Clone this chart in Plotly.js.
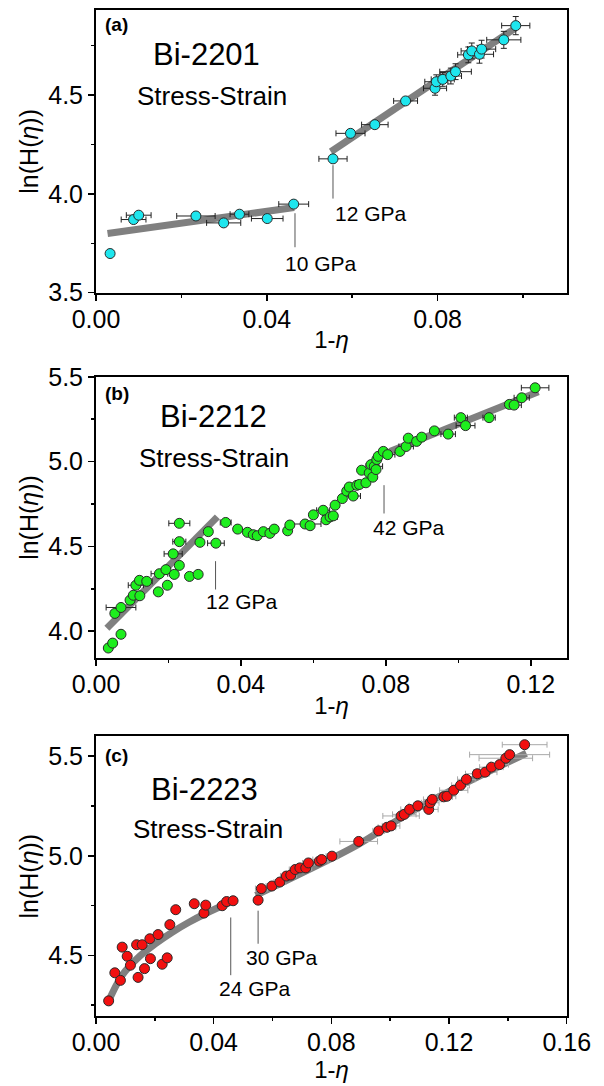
<!DOCTYPE html>
<html>
<head>
<meta charset="utf-8">
<script src="https://cdn.plot.ly/plotly-3.0.1.min.js"></script>
<style>html,body{margin:0;padding:0;background:#fff;}#chart{width:604px;height:1086px;}</style>
</head>
<body>
<div id="chart"></div>
<script>
// ---------- Panel (a) Bi-2201 ----------
const aX = [0.0033,0.0088,0.0100,0.0234,0.0299,0.0336,0.0401,0.0463,0.0555,0.0596,0.0653,0.0725,0.0794,0.0797,0.0812,0.0831,0.0842,0.0872,0.0880,0.0898,0.0903,0.0955,0.0983];
const aY = [3.698,3.870,3.892,3.888,3.853,3.897,3.875,3.948,4.177,4.306,4.350,4.470,4.534,4.567,4.579,4.596,4.618,4.703,4.723,4.706,4.732,4.779,4.851];
const aErrX = [0,0.0029,0.0029,0.0045,0.0040,0.0022,0.0037,0.0035,0.0033,0.0034,0.0031,0.0028,0.0027,0.0027,0.0027,0.0025,0.0037,0.0025,0.0025,0.0033,0.0033,0.0040,0.0033];
const aErrY = [0,0,0,0,0,0,0,0,0,0,0,0,0.035,0.035,0.035,0.04,0.04,0.04,0.04,0.045,0.045,0.043,0.046];
const aFit1X = [0.0027,0.0464], aFit1Y = [3.799,3.931];
const aFit2X = [0.0550,0.0982], aFit2Y = [4.213,4.838];

// ---------- Panel (b) Bi-2212 ----------
const bX = [0.0034,0.0046,0.0069,0.0052,0.0069,0.0094,0.0103,0.0121,0.0110,0.0120,0.0140,0.0172,0.0175,0.0197,0.0193,0.0216,0.0230,0.0213,0.0230,0.0230,0.0258,0.0282,0.0287,0.0310,0.0331,0.0358,0.0391,0.0418,0.0434,0.0445,0.0462,0.0480,0.0492,0.0529,0.0535,0.0577,0.0591,0.0600,0.0627,0.0635,0.0646,0.0655,0.0660,0.0680,0.0692,0.0699,0.0710,0.0720,0.0727,0.0733,0.0745,0.0754,0.0759,0.0764,0.0768,0.0773,0.0775,0.0779,0.0793,0.0805,0.0839,0.0856,0.0862,0.0885,0.0899,0.0934,0.0972,0.1007,0.1020,0.1085,0.1141,0.1154,0.1175,0.1212];
const bY = [3.901,3.930,3.982,4.105,4.140,4.183,4.212,4.209,4.271,4.300,4.294,4.232,4.339,4.271,4.363,4.335,4.388,4.456,4.528,4.636,4.323,4.335,4.524,4.587,4.519,4.641,4.602,4.583,4.569,4.563,4.587,4.577,4.602,4.592,4.626,4.632,4.622,4.686,4.713,4.657,4.674,4.680,4.743,4.782,4.826,4.850,4.797,4.860,4.865,4.949,4.875,4.933,4.982,4.908,4.972,4.953,5.012,5.031,5.060,5.041,5.060,5.089,5.138,5.119,5.144,5.181,5.162,5.259,5.212,5.259,5.337,5.333,5.376,5.435];
const bErrX = [0,0,0,0,0.0041,0,0,0,0.0021,0,0.0015,0,0.0023,0,0,0,0,0.0025,0.0018,0.0029,0,0,0,0,0.0023,0.0015,0,0,0,0,0,0,0,0,0,0.0044,0,0,0.0018,0,0.0020,0,0,0,0,0,0.0020,0,0,0,0,0,0,0,0.0023,0,0,0,0,0.0020,0,0.0020,0,0,0,0,0.0020,0.0018,0.0026,0.0017,0,0.0020,0.0021,0.0038];
const bFit1X = [0.0030,0.0335], bFit1Y = [4.018,4.674];
const bFit2X = [0.0811,0.1221], bFit2Y = [5.060,5.411];

// ---------- Panel (c) Bi-2223 ----------
const cX = [0.0043,0.0064,0.0083,0.0089,0.0106,0.0117,0.0138,0.0143,0.0157,0.0165,0.0183,0.0185,0.0211,0.0225,0.0242,0.0251,0.0271,0.0334,0.0367,0.0373,0.0429,0.0444,0.0466,
            0.0551,0.0562,0.0598,0.0625,0.0647,0.0662,0.0677,0.0693,0.0713,0.0722,0.0759,0.0767,0.0802,0.0893,0.0961,0.0989,0.1003,0.1037,0.1048,0.1066,0.1094,0.1131,0.1136,0.1143,0.1182,0.1193,0.1216,0.1239,0.1259,0.1296,0.1323,0.1344,0.1372,0.1393,0.1406,0.1457];
const cY = [4.271,4.412,4.374,4.541,4.495,4.450,4.553,4.389,4.553,4.433,4.583,4.483,4.604,4.455,4.487,4.654,4.729,4.759,4.712,4.752,4.749,4.770,4.774,
            4.777,4.835,4.848,4.868,4.898,4.903,4.931,4.939,4.939,4.964,4.973,4.981,4.998,5.072,5.125,5.143,5.150,5.200,5.208,5.233,5.251,5.233,5.266,5.283,5.296,5.299,5.329,5.354,5.384,5.412,5.420,5.445,5.458,5.490,5.508,5.558];
const cErrX = [0,0,0,0,0,0,0,0,0,0,0,0,0,0,0,0,0,0,0,0,0,0,0,
               0,0.002,0.002,0.002,0.002,0.002,0.002,0.002,0.002,0.002,0.003,0.003,0.002,0.0064,0.002,0.003,0.003,0.0062,0.004,0.003,0.003,0.0032,0.003,0.003,0.003,0.003,0.0048,0.003,0.003,0.004,0.004,0.004,0.003,0.0091,0.0136,0.0076];
const cFit1X = [0.0037,0.0089,0.0146,0.0202,0.0259,0.0316,0.0373,0.0429,0.0475];
const cFit1Y = [4.251,4.400,4.492,4.558,4.616,4.666,4.710,4.749,4.779];
const cFit2X = [0.0543,0.0804,0.0893,0.1094,0.1463];
const cFit2Y = [4.801,4.989,5.058,5.240,5.515];

// ---------- tick / label text ----------
const yTitle = 'ln(H(<i>η</i>))';
const xTitle = '1-<i>η</i>';
const panelTags = ['<b>(a)</b>','<b>(b)</b>','<b>(c)</b>'];
const sampleNames = ['Bi-2201','Bi-2212','Bi-2223'];
const methodName = 'Stress-Strain';

const FONT = 'Liberation Sans, Arial, sans-serif';
const fitLine = {color:'#808080', width:7};

function fit(x, y, xa, ya, shape) {
  return {x:x, y:y, xaxis:xa, yaxis:ya, mode:'lines', type:'scatter', hoverinfo:'skip',
          line:Object.assign({shape:shape||'linear', simplify:false}, fitLine), showlegend:false};
}
function pts(x, y, ex, ey, xa, ya, color, errColor) {
  const t = {x:x, y:y, xaxis:xa, yaxis:ya, mode:'markers', type:'scatter', showlegend:false,
    marker:{size:10, color:color, line:{color:'#2a2a2a', width:1}},
    error_x:{type:'data', array:ex, visible:true, color:errColor, thickness:1, width:3}};
  if (ey) t.error_y = {type:'data', array:ey, visible:true, color:errColor, thickness:1, width:3};
  return t;
}

const data = [
  fit(aFit1X, aFit1Y, 'x', 'y'),
  fit(aFit2X, aFit2Y, 'x', 'y'),
  pts(aX, aY, aErrX, aErrY, 'x', 'y', '#1EE6EE', '#222'),
  fit(bFit1X, bFit1Y, 'x2', 'y2'),
  fit(bFit2X, bFit2Y, 'x2', 'y2'),
  pts(bX, bY, bErrX, null, 'x2', 'y2', '#1EEE1E', '#222'),
  fit(cFit1X, cFit1Y, 'x3', 'y3', 'spline'),
  fit(cFit2X, cFit2Y, 'x3', 'y3', 'spline'),
  pts(cX, cY, cErrX, null, 'x3', 'y3', '#F21010', '#a8a8a8')
];

const TICK = 25;
function xax(range, anchor, dtick) {
  return {range:range, anchor:anchor, dtick:dtick, tick0:0, tickformat:'.2f',
    showline:true, linecolor:'#000', linewidth:2, mirror:true, ticks:'outside', ticklen:6, tickwidth:1.5, tickcolor:'#000',
    minor:{dtick:dtick/2, ticks:'outside', ticklen:3, tickwidth:1.5, tickcolor:'#000'},
    showgrid:false, zeroline:false, tickfont:{size:TICK, color:'#000'}, ticklabelstandoff:-3,
    title:{text:xTitle, font:{size:24, color:'#000'}, standoff:0}};
}
function yax(range, anchor, domain) {
  return {range:range, anchor:anchor, domain:domain, dtick:0.5, tick0:0, tickformat:'.1f',
    showline:true, linecolor:'#000', linewidth:2, mirror:true, ticks:'outside', ticklen:6, tickwidth:1.5, tickcolor:'#000',
    minor:{dtick:0.25, ticks:'outside', ticklen:3, tickwidth:1.5, tickcolor:'#000'},
    showgrid:false, zeroline:false, tickfont:{size:TICK, color:'#000'},
    title:{text:yTitle, font:{size:25, color:'#000'}, standoff:2}};
}

function txt(text, x, y, xref, yref, size, extra) {
  return Object.assign({text:text, x:x, y:y, xref:xref, yref:yref, showarrow:false,
    font:{size:size, color:'#000', family:FONT}, xanchor:'center', yanchor:'middle'}, extra||{});
}

const annotations = [
  txt(panelTags[0], 0.044, 0.947, 'x domain', 'y domain', 19),
  txt(sampleNames[0], 0.235, 0.843, 'x domain', 'y domain', 31),
  txt(methodName, 0.247, 0.697, 'x domain', 'y domain', 26),
  txt('10 GPa', 0.0526, 3.647, 'x', 'y', 21),
  txt('12 GPa', 0.0645, 3.90, 'x', 'y', 21),

  txt(panelTags[1], 0.044, 0.939, 'x2 domain', 'y2 domain', 19),
  txt(sampleNames[1], 0.249, 0.859, 'x2 domain', 'y2 domain', 31),
  txt(methodName, 0.251, 0.712, 'x2 domain', 'y2 domain', 26),
  txt('12 GPa', 0.0402, 4.174, 'x2', 'y2', 21),
  txt('42 GPa', 0.0864, 4.612, 'x2', 'y2', 21),

  txt(panelTags[2], 0.044, 0.931, 'x3 domain', 'y3 domain', 19),
  txt(sampleNames[2], 0.231, 0.810, 'x3 domain', 'y3 domain', 31),
  txt(methodName, 0.238, 0.667, 'x3 domain', 'y3 domain', 26),
  txt('24 GPa', 0.0540, 4.331, 'x3', 'y3', 21),
  txt('30 GPa', 0.0632, 4.487, 'x3', 'y3', 21)
];

const lineStyle = {color:'#555', width:1};
const shapes = [
  {type:'line', xref:'x', yref:'y', x0:0.0466, x1:0.0466, y0:3.902, y1:3.730, line:lineStyle},
  {type:'line', xref:'x', yref:'y', x0:0.0555, x1:0.0555, y0:4.145, y1:3.976, line:lineStyle},
  {type:'line', xref:'x2', yref:'y2', x0:0.0330, x1:0.0330, y0:4.413, y1:4.246, line:lineStyle},
  {type:'line', xref:'x2', yref:'y2', x0:0.0795, x1:0.0795, y0:4.861, y1:4.694, line:lineStyle},
  {type:'line', xref:'x3', yref:'y3', x0:0.0458, x1:0.0458, y0:4.690, y1:4.400, line:lineStyle},
  {type:'line', xref:'x3', yref:'y3', x0:0.0551, x1:0.0551, y0:4.724, y1:4.558, line:lineStyle}
];

const layout = {
  width:604, height:1086,
  margin:{l:96, r:37, t:10, b:70},
  paper_bgcolor:'#fff', plot_bgcolor:'#fff',
  font:{family:FONT, color:'#000'},
  showlegend:false,
  xaxis: xax([0, 0.1103], 'y', 0.04),
  yaxis: yax([3.5, 4.93], 'x', [0.719, 1]),
  xaxis2: xax([0, 0.13], 'y2', 0.04),
  yaxis2: yax([3.84, 5.501], 'x2', [0.3555, 0.6356]),
  xaxis3: xax([0, 0.1601], 'y3', 0.04),
  yaxis3: yax([4.195, 5.6], 'x3', [0, 0.278]),
  annotations: annotations,
  shapes: shapes
};

Plotly.newPlot('chart', data, layout, {staticPlot:true, displayModeBar:false});
</script>
</body>
</html>
